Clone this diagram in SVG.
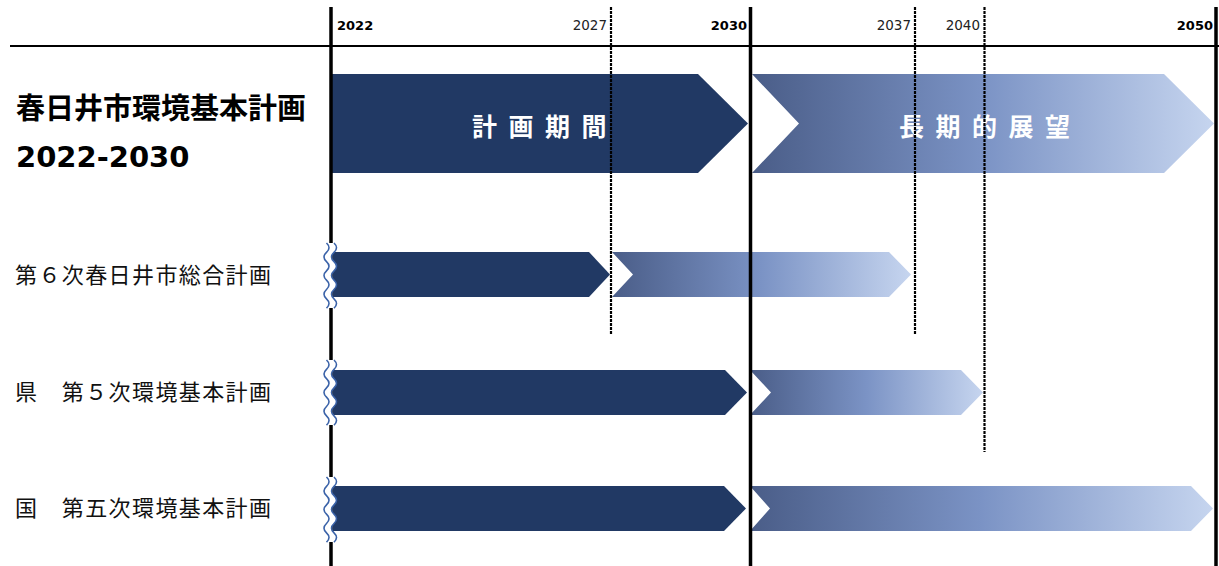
<svg xmlns="http://www.w3.org/2000/svg" width="1219" height="566" viewBox="0 0 1219 566">
<style>
.yr{font-family:"DejaVu Sans",Verdana,sans-serif;font-size:13.5px;fill:#222}
.yrb{font-family:"DejaVu Sans",Verdana,sans-serif;font-size:13px;font-weight:bold;fill:#000}
.lbl{font-family:"Noto Sans CJK JP","Noto Sans",sans-serif;font-size:22px;fill:#111;letter-spacing:1.4px}
.ttl{font-family:"Noto Sans CJK JP","DejaVu Sans",sans-serif;font-size:29px;font-weight:bold;fill:#000}
.bar{font-family:"Noto Sans CJK JP",sans-serif;font-size:25px;font-weight:bold;fill:#fff;letter-spacing:11.5px}
.dark{fill:#213964}
.grad{fill:url(#g)}
.solid{stroke:#000;stroke-width:3.5;fill:none}
.dash{stroke:#000;stroke-width:2.2;stroke-dasharray:3 1;fill:none}
.wave{stroke:#3a62a8;stroke-width:1.6;fill:none}
</style>
<defs>
<linearGradient id="g" x1="0" y1="0" x2="1" y2="0">
<stop offset="0" stop-color="#4a5d88"/>
<stop offset="0.5" stop-color="#7b93c5"/>
<stop offset="1" stop-color="#c6d5ef"/>
</linearGradient>
<g id="wv">
<path d="M326.5,0 q5,4.65 0,9.3 t0,9.3 t0,9.3 t0,9.3 t0,9.3 t0,9.3 t0,9.3 L334,65 q5,-4.65 0,-9.3 t0,-9.3 t0,-9.3 t0,-9.3 t0,-9.3 t0,-9.3 t0,-9.3 Z" fill="#fff"/>
<path class="wave" d="M326.5,0 q5,4.65 0,9.3 t0,9.3 t0,9.3 t0,9.3 t0,9.3 t0,9.3 t0,9.3"/>
<path class="wave" d="M334,0 q5,4.65 0,9.3 t0,9.3 t0,9.3 t0,9.3 t0,9.3 t0,9.3 t0,9.3"/>
</g>
</defs>

<g id="axis">
<line x1="10" y1="46" x2="1219" y2="46" stroke="#000" stroke-width="2"/>
<text class="yrb" x="337" y="30">2022</text>
<text class="yr" x="607" y="30" text-anchor="end">2027</text>
<text class="yrb" x="747" y="30" text-anchor="end">2030</text>
<text class="yr" x="911" y="30" text-anchor="end">2037</text>
<text class="yr" x="980" y="30" text-anchor="end">2040</text>
<text class="yrb" x="1213" y="30" text-anchor="end">2050</text>
</g>

<g id="title">
<text class="ttl" x="16" y="119">春日井市環境基本計画</text>
<text class="ttl" x="16" y="167" style="font-family:'DejaVu Sans',sans-serif">2022-2030</text>
</g>

<g id="plan-period">
<path class="dark" d="M331,74 L698,74 L748,123.5 L698,173 L331,173 Z"/>
<text class="bar" x="472" y="136">計画期間</text>
</g>
<g id="long-term">
<path class="grad" d="M752,74 L1164,74 L1214,123.5 L1164,173 L752,173 L799,123.5 Z"/>
<text class="bar" x="899" y="136">長期的展望</text>
</g>

<g id="row1">
<text class="lbl" x="15" y="283">第６次春日井市総合計画</text>
<path class="dark" d="M333,252 L589,252 L610,274.5 L589,297 L333,297 Z"/>
<path class="grad" d="M612,252 L889,252 L911,274.5 L889,297 L612,297 L633,274.5 Z"/>
</g>
<g id="row2">
<text class="lbl" x="15" y="400">県　第５次環境基本計画</text>
<path class="dark" d="M333,370 L725,370 L747,392.5 L725,415 L333,415 Z"/>
<path class="grad" d="M750,370 L961,370 L983,392.5 L961,415 L750,415 L771,392.5 Z"/>
</g>
<g id="row3">
<text class="lbl" x="15" y="516">国　第五次環境基本計画</text>
<path class="dark" d="M333,486 L724,486 L746,508.5 L724,531 L333,531 Z"/>
<path class="grad" d="M750,486 L1191,486 L1213,508.5 L1191,531 L750,531 L770,508.5 Z"/>
</g>

<g id="connectors">
<line class="solid" x1="331" y1="7" x2="331" y2="566"/>
<line class="solid" x1="750.5" y1="7" x2="750.5" y2="566"/>
<line class="solid" x1="1216" y1="7" x2="1216" y2="566"/>
<line class="dash" x1="611" y1="7" x2="611" y2="335"/>
<line class="dash" x1="915" y1="7" x2="915" y2="335"/>
<line class="dash" x1="984.5" y1="7" x2="984.5" y2="452"/>
<use href="#wv" y="243"/>
<use href="#wv" y="360"/>
<use href="#wv" y="477"/>
</g>
</svg>
